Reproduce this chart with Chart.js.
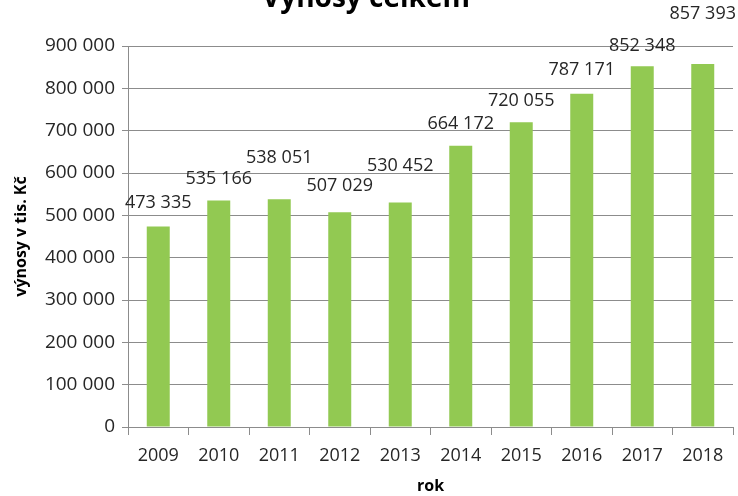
<!DOCTYPE html>
<html>
<head>
<meta charset="utf-8">
<script src="https://cdn.jsdelivr.net/npm/chart.js@4"></script>
<style>
  html, body { margin: 0; padding: 0; background: #fff; }
  #box { width: 738px; height: 496px; }
</style>
</head>
<body>
<div id="box"><canvas id="vynosy"></canvas></div>
<script>
// data z grafu
const roky = ['2009', '2010', '2011', '2012', '2013', '2014', '2015', '2016', '2017', '2018'];
const vynosy = [473335, 535166, 538051, 507029, 530452, 664172, 720055, 787171, 852348, 857393];
const osaY = [0, 100000, 200000, 300000, 400000, 500000, 600000, 700000, 800000, 900000];

// posun popisku nad sloupcem (px), jako v Excelu
const posunPopisku = [24, 22, 41, 26, 37, 22, 21, 24, 20, 50];

const FONT = "'Open Sans', 'Liberation Sans', sans-serif";

function mezery(n) {
    return String(n).replace(/\B(?=(\d{3})+(?!\d))/g, ' ');
}

// popisky hodnot + nadpis
const popisky = {
    id: 'popisky',
    afterDatasetsDraw(chart) {
        const ctx = chart.ctx;
        const meta = chart.getDatasetMeta(0);
        ctx.save();
        ctx.font = '18px ' + FONT;
        ctx.fillStyle = '#262626';
        ctx.textAlign = 'center';
        ctx.textBaseline = 'middle';
        meta.data.forEach((bar, i) => {
            ctx.fillText(mezery(vynosy[i]), bar.x, bar.y - posunPopisku[i]);
        });
        // nadpis je nahore oriznuty
        ctx.font = 'bold 28px ' + FONT;
        ctx.fillStyle = '#000';
        ctx.textBaseline = 'alphabetic';
        ctx.fillText('Výnosy celkem', 366, 7);
        ctx.restore();
    }
};

const config = {
    type: 'bar',
    data: {
        labels: roky,
        datasets: [{
            data: vynosy,
            backgroundColor: '#92c952',
            borderWidth: 0,
            barPercentage: 0.38,
            categoryPercentage: 1
        }]
    },
    options: {
        responsive: true,
        maintainAspectRatio: false,
        animation: false,
        layout: { padding: { top: 46, right: 5, left: 4, bottom: 0 } },
        plugins: {
            legend: { display: false },
            tooltip: { enabled: false }
        },
        scales: {
            x: {
                grid: {
                    display: true,
                    drawOnChartArea: false,
                    offset: true,
                    tickLength: 8,
                    color: '#8c8c8c'
                },
                border: { color: '#8c8c8c' },
                ticks: {
                    color: '#262626',
                    font: { family: FONT, size: 18 },
                    padding: 10
                },
                title: {
                    display: true,
                    text: 'rok',
                    color: '#000',
                    font: { family: FONT, size: 16, weight: 'bold' },
                    padding: { top: 6, bottom: 0 }
                },
                afterFit(scale) { scale.height = 69; }
            },
            y: {
                min: 0,
                max: 900000,
                afterBuildTicks(scale) {
                    scale.ticks = osaY.map(v => ({ value: v }));
                },
                grid: {
                    color: '#8c8c8c',
                    tickLength: 6
                },
                border: { color: '#8c8c8c' },
                ticks: {
                    color: '#262626',
                    font: { family: FONT, size: 19 },
                    padding: 7,
                    callback: v => mezery(v)
                },
                title: {
                    display: true,
                    text: 'výnosy v tis. Kč',
                    color: '#000',
                    font: { family: FONT, size: 16, weight: 'bold' },
                    padding: { top: 8, bottom: 4 }
                },
                afterFit(scale) { scale.width = 124; }
            }
        }
    },
    plugins: [popisky]
};

new Chart(document.getElementById('vynosy'), config);
</script>
</body>
</html>
